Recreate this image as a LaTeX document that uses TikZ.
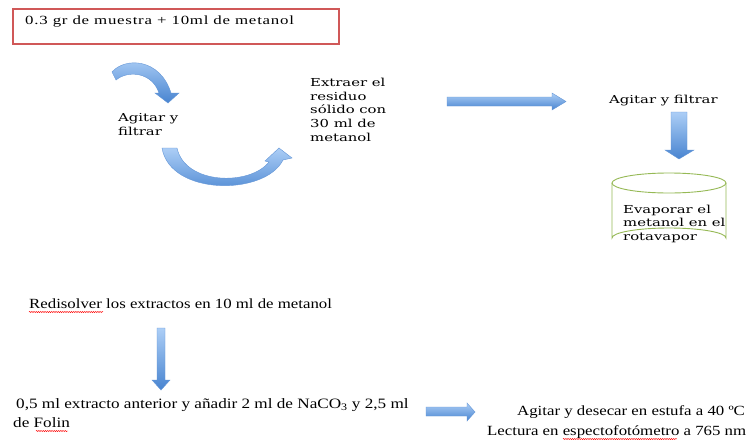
\documentclass[tikz,border=0pt]{standalone}
\usepackage{fontspec}
\setmainfont{Liberation Serif}[FakeStretch=1.2]
\newfontfamily\topfont{Liberation Serif}[FakeStretch=1.35, LetterSpace=6]
\newfontfamily\slabfont{DejaVu Serif}[FakeStretch=1.35]
\usetikzlibrary{decorations.pathmorphing}
\definecolor{arrowtop}{RGB}{172,206,246}
\definecolor{arrowbot}{RGB}{72,132,208}
\definecolor{arrowline}{RGB}{100,150,215}
\definecolor{boxred}{RGB}{208,88,88}
\definecolor{cylgreen}{RGB}{150,185,85}
\tikzset{
  blockarrow/.style={top color=arrowtop, bottom color=arrowbot, draw=arrowline, line width=0.4pt},
  slabtext/.style={font=\slabfont\fontsize{11}{13.6}\selectfont, align=left, inner sep=0pt, anchor=base west},
  toptext/.style={font=\topfont\fontsize{12.5}{15}\selectfont, inner sep=0pt, anchor=base west},
  serif14/.style={font=\fontsize{14}{19}\selectfont, inner sep=0pt, anchor=base west},
  spell/.style={draw=red, line width=0.45pt, decorate, decoration={snake, segment length=2.2pt, amplitude=0.6pt}}
}
\begin{document}
\begin{tikzpicture}[x=1pt,y=-1pt]
\useasboundingbox (0,0) rectangle (746,447);
\fill[white] (0,0) rectangle (746,447);

% top box
\node[draw=boxred, line width=1.6pt, anchor=north west, minimum width=326pt, minimum height=35pt, inner sep=0pt] (start) at (12,8) {};
\node[toptext] (startlabel) at (25,24) {0.3 gr de muestra + 10ml de metanol};

% upper curved arrow
\shade[blockarrow] (112,72) .. controls (125,57) and (160,58) .. (171,93)
  -- (179,93) -- (168,103) -- (155,93) -- (159,93)
  .. controls (152,72) and (128,70) .. (116,80) -- cycle;

\node[slabtext] (agitar1) at (118,135) {Agitar y\\filtrar};

% lower curved arrow
\shade[blockarrow] (162,148) .. controls (170,196) and (265,196) .. (283,160)
  -- (292,158) -- (279,148) -- (265,161) -- (269,162)
  .. controls (250,186) and (185,185) .. (177,148) -- cycle;

\node[slabtext] (extraer) at (310,141) {Extraer el\\residuo\\sólido con\\30 ml de\\metanol};

% straight right arrow
\shade[blockarrow] (447,97) -- (552,97) -- (552,93) -- (566,101.5) -- (552,110) -- (552,106) -- (447,106) -- cycle;

\node[slabtext] (agitar2) at (609,103) {Agitar y filtrar};

% down arrow
\shade[blockarrow] (671,112) -- (687,112) -- (687,150) -- (694,150) -- (679,159) -- (665,150) -- (671,150) -- cycle;

% cylinder
\draw[cylgreen, line width=0.9pt, fill=white] (612,183) -- (612,238) arc[start angle=180, end angle=360, x radius=57, y radius=10] -- (726,183);
\draw[cylgreen, line width=0.9pt] (669,183) ellipse[x radius=57, y radius=10];
\node[slabtext, font=\slabfont\fontsize{11}{13.5}\selectfont] (evap) at (623,240) {Evaporar el\\metanol en el\\rotavapor};

% bottom section
\node[serif14] (redis) at (29,308) {Redisolver los extractos en 10 ml de metanol};
\draw[spell] (29,312) -- (103,312);

\shade[blockarrow] (157,328) -- (165,328) -- (165,380) -- (170,380) -- (161,390) -- (152,380) -- (157,380) -- cycle;

\node[serif14, font=\fontsize{14.3}{19}\selectfont] (mix) at (16,408) {0,5 ml extracto anterior y añadir 2 ml de NaCO\textsubscript{3} y 2,5 ml};
\node[serif14, font=\fontsize{14.3}{19}\selectfont] (mix2) at (13,427) {de Folin};
\draw[spell] (36,431) -- (68,431);

\shade[blockarrow] (426,407) -- (467,407) -- (467,403) -- (475,412) -- (467,421) -- (467,416) -- (426,416) -- cycle;

\node[serif14] (desecar) at (517,415) {Agitar y desecar en estufa a 40 ºC};
\node[serif14] (lectura) at (487,435) {Lectura en espectofotómetro a 765 nm};
\draw[spell] (563,439) -- (677,439);
\end{tikzpicture}
\end{document}
